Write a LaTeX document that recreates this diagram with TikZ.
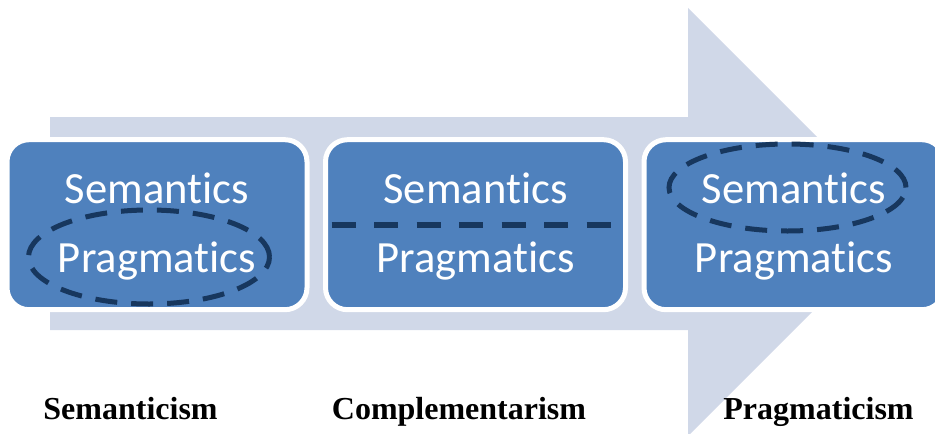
\documentclass[tikz,border=0pt]{standalone}
\usepackage{fontspec}
\setmainfont{Liberation Serif}
\newfontfamily\boxfont[Ligatures=NoCommon]{Carlito}
\usepackage{tikz}
\usetikzlibrary{shapes,positioning}
\usepackage{xcolor}
\definecolor{stageblue}{RGB}{79,129,189}
\definecolor{arrowgrey}{RGB}{208,216,232}
\definecolor{darknavy}{RGB}{23,55,94}
\tikzstyle{stagebox} = [rectangle, rounded corners=11pt, fill=stageblue, draw=white, line width=2.5pt, minimum width=150pt, minimum height=85pt, inner sep=0pt]
\tikzstyle{termtext} = [text=white, font=\boxfont\fontsize{22.3}{26}\selectfont, inner sep=0pt]
\tikzstyle{focusring} = [ellipse, draw=darknavy, line width=2.5pt, dash pattern=on 11pt off 7pt, inner sep=0pt]
\tikzstyle{splitline} = [draw=darknavy, line width=2.8pt, dash pattern=on 12pt off 9.25pt]
\tikzstyle{viewlabel} = [font=\bfseries\fontsize{16}{19}\selectfont, inner sep=0pt]

\begin{document}
\begin{tikzpicture}[x=0.5pt,y=-0.5pt]
\useasboundingbox (0,0) rectangle (935,433);
% Big arrow behind the stages
\fill[arrowgrey] (50,117) -- (688,117) -- (688,8) -- (902,222) -- (688,436) -- (688,330) -- (50,330) -- cycle;

% Three stages
\foreach \i/\x in {1/157,2/475.5,3/794} {
    \node[stagebox] (stage\i) at (\x,224.7) {};
    \node[termtext, anchor=base] (sem\i) at (\x,203) {Semantics};
    \node[termtext, anchor=base] (prag\i) at (\x,272) {Pragmatics};
}

% Dashed marks
\node[focusring, minimum width=120.5pt, minimum height=47pt] (ring1) at (149,257) {};
\draw[splitline] ([xshift=4.25pt]stage2.west) -- ([xshift=-6.25pt]stage2.east);
\node[focusring, minimum width=118.5pt, minimum height=43.5pt] (ring3) at (787.5,187.5) {};

% Names of the views
\node[viewlabel, anchor=base] (view1) at (130.5,419) {Semanticism};
\node[viewlabel, anchor=base] (view2) at (459,419) {Complementarism};
\node[viewlabel, anchor=base] (view3) at (818.5,419) {Pragmaticism};
\end{tikzpicture}
\end{document}
